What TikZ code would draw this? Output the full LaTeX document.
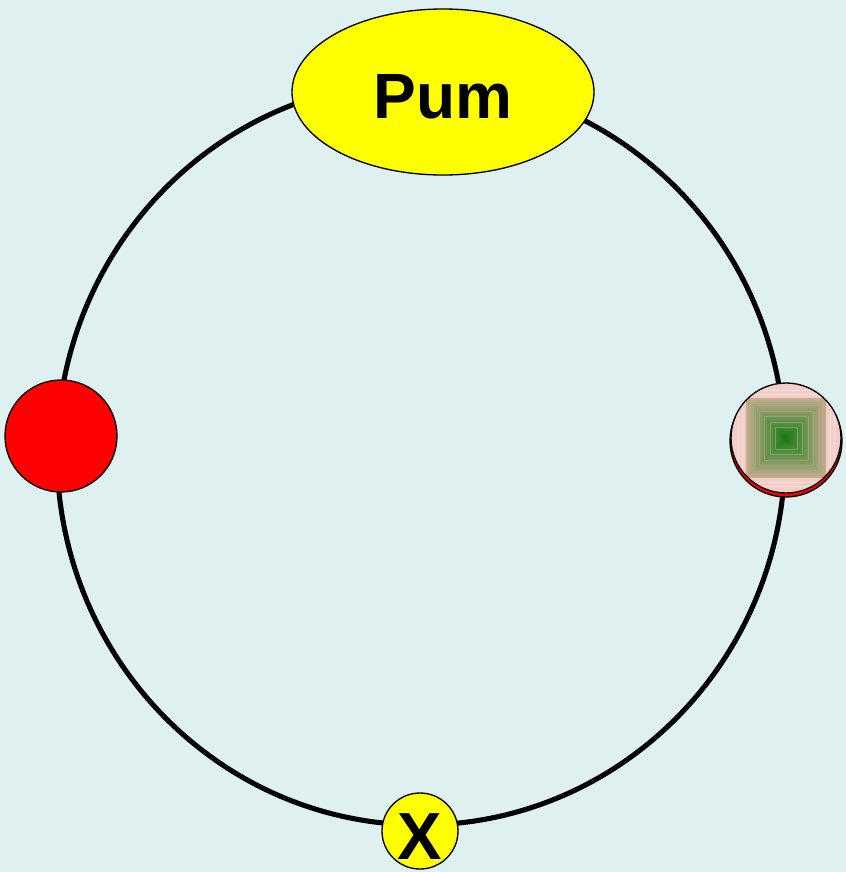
\documentclass[tikz,border=0pt]{standalone}
\usepackage{fontspec}
\setmainfont{Liberation Sans}
\usetikzlibrary{shapes.geometric}
\definecolor{bgc}{RGB}{223,240,240}
\definecolor{yel}{RGB}{255,255,0}
\definecolor{redc}{RGB}{255,0,0}
\definecolor{pinkc}{RGB}{243,205,200}
\definecolor{tanc}{RGB}{210,170,150}
\definecolor{greenc}{RGB}{15,120,15}
\definecolor{linec}{RGB}{130,200,120}
\tikzset{
  ring/.style={line width=3.8pt},
  ball/.style={circle, draw=black, line width=1pt, inner sep=0pt, minimum size=112*0.75pt},
  bigfont/.style={font=\fontsize{48}{50}\bfseries\selectfont}
}
\begin{document}
\begin{tikzpicture}[x=0.75pt,y=-0.75pt]
\fill[bgc] (0,0) rectangle (846,872);
\useasboundingbox (0,0) rectangle (846,872);
\coordinate (c) at (421,453);
\draw[ring] (c) ellipse[x radius=364*0.75pt, y radius=372*0.75pt];
% top ellipse
\node[ellipse, draw=black, line width=1pt, fill=yel, minimum width=302*0.75pt, minimum height=166*0.75pt, inner sep=0pt] (pum) at (443,92) {};
\node[bigfont] (pumlbl) at (443,97) {Pum};
% left red ball
\node[ball, fill=redc] (left) at (61,436) {};
% right patterned ball
\node[ball, fill=redc] (rightbase) at (786,441) {};
\begin{scope}
  \clip (786,438) circle[radius=55*0.75pt];
  \fill[pinkc] (730,382) rectangle (842,494);
  \foreach \i in {0,...,19} {
    \pgfmathsetmacro{\h}{40-2*\i}
    \pgfmathtruncatemacro{\mm}{min(100,4+4.8*\i)}
    \fill[greenc!\mm!tanc] (786-\h,438-\h) rectangle (786+\h,438+\h);
  }
  \foreach \h in {38,33,27,22,16,11} {
    \draw[linec, opacity=0.55, line width=0.6pt] (786-\h,438-\h) rectangle (786+\h,438+\h);
  }
  \foreach \h in {44,48} {
    \draw[white, opacity=0.4, line width=0.6pt] (786-\h,438-\h) rectangle (786+\h,438+\h);
  }
\end{scope}
\node[circle, draw=black, line width=1pt, minimum size=110*0.75pt, inner sep=0pt] (right) at (786,438) {};
% bottom X ball
\node[circle, draw=black, line width=1pt, fill=yel, minimum size=76*0.75pt, inner sep=0pt] (xb) at (420,831) {};
\node[font=\fontsize{50}{50}\bfseries\selectfont] (xlbl) at (420,837) {X};
\end{tikzpicture}
\end{document}
